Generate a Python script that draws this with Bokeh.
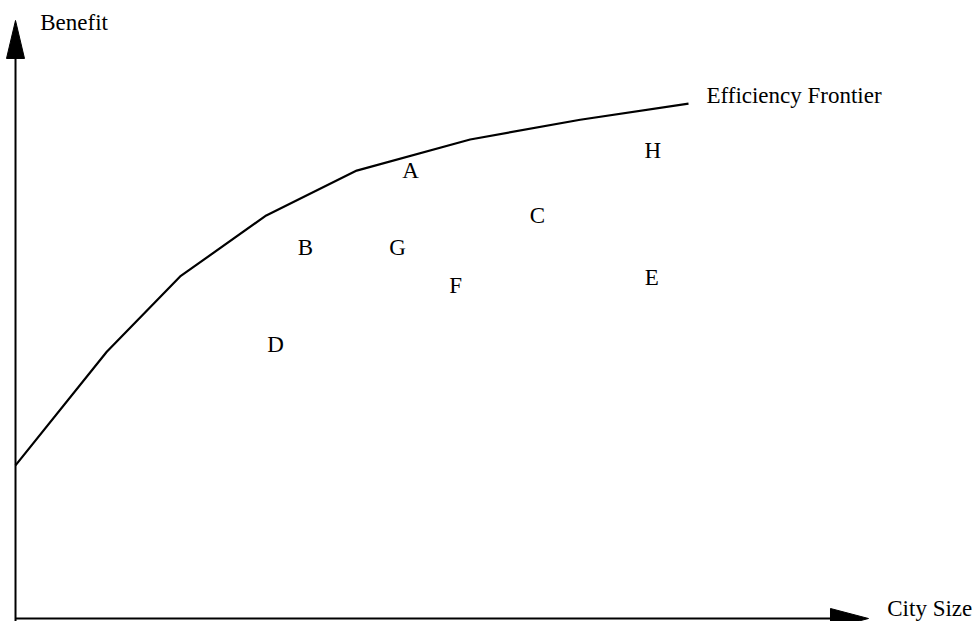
from bokeh.plotting import figure
from bokeh.models import Range1d, ColumnDataSource, Label
from bokeh.core.properties import value
from bokeh.embed import file_html
from bokeh.resources import INLINE

# Efficiency frontier (city size vs benefit, arbitrary units; axes run 0..100)
frontier_size = [0, 10.7, 19.3, 29.4, 40.0, 53.3, 66.2, 78.9]
frontier_benefit = [25.6, 44.6, 57.2, 67.4, 74.9, 80.1, 83.4, 86.1]

# Cities
city_names = ["A", "B", "C", "D", "E", "F", "G", "H"]
city_size = [46.3, 34.0, 61.2, 30.5, 74.6, 51.6, 44.8, 74.7]
city_benefit = [74.9, 62.0, 67.4, 45.8, 57.0, 55.7, 62.0, 78.3]

x_label = "City Size"
y_label = "Benefit"
frontier_label = "Efficiency Frontier"
axis_max = 100

FONT = value("Liberation Serif")
FS = "23px"

W, H = 977, 621
x0, x1 = -1.76, 112.78
y0, y1 = -0.50, 103.34

p = figure(width=W, height=H, output_backend="svg", toolbar_location=None,
           x_range=Range1d(x0, x1), y_range=Range1d(y0, y1),
           min_border=0, min_border_left=0, min_border_right=0,
           min_border_top=0, min_border_bottom=0)
p.axis.visible = False
p.grid.visible = False
p.outline_line_color = None
p.background_fill_color = "white"
p.border_fill_color = "white"

# pixels per unit (for arrow head geometry)
ppx = W / (x1 - x0)
ppy = H / (y1 - y0)

# axes lines
p.line([0, 0], [y0 - 1, axis_max - 30 / ppy], line_color="black", line_width=2)
p.line([0, axis_max - 30 / ppx], [0, 0], line_color="black", line_width=2)

# arrow heads
hl, hw = 38, 9
p.patch([0 - hw / ppx, 0, 0 + hw / ppx], [axis_max - hl / ppy, axis_max, axis_max - hl / ppy],
        fill_color="black", line_color="black")
hw2 = 10
p.patch([axis_max - hl / ppx, axis_max, axis_max - hl / ppx], [hw2 / ppy, 0, -hw2 / ppy],
        fill_color="black", line_color="black")

# frontier
src_f = ColumnDataSource(dict(x=frontier_size, y=frontier_benefit))
p.line("x", "y", source=src_f, line_color="black", line_width=2.2)

# city letters
src_c = ColumnDataSource(dict(x=city_size, y=city_benefit, t=city_names))
p.text("x", "y", text="t", source=src_c, text_font=FONT, text_font_size=FS,
       text_align="center", text_baseline="middle", text_color="black")

p.add_layout(Label(x=2.9, y=axis_max - 0.3, text=y_label, text_font="Liberation Serif",
                   text_font_size=FS, text_baseline="middle", text_color="black"))
p.add_layout(Label(x=102.2, y=1.7, text=x_label, text_font="Liberation Serif",
                   text_font_size=FS, text_baseline="middle", text_color="black"))
p.add_layout(Label(x=81.0, y=87.5, text=frontier_label, text_font="Liberation Serif",
                   text_font_size=FS, text_baseline="middle", text_color="black"))

open("out.html", "w").write(file_html(p, INLINE))
